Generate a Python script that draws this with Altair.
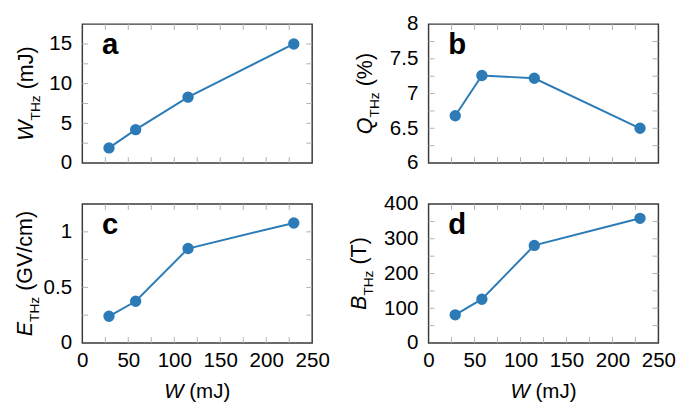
import altair as alt
import pandas as pd

# ---- data ----
energy = [29, 58, 115, 230]          # W (mJ)
w_thz = [1.9, 4.2, 8.3, 15.0]        # W_THz (mJ)
q_thz = [6.68, 7.26, 7.22, 6.5]      # Q_THz (%)
e_thz = [0.24, 0.375, 0.85, 1.08]    # E_THz (GV/cm)
b_thz = [81, 126, 281, 359]          # B_THz (T)

x_labels = [0, 50, 100, 150, 200, 250]
x_minor = [25, 50, 75, 100, 125, 150, 175, 200, 225]

FONT = "Liberation Sans"
BLUE = "#2c7bb6"
PW, PH = 235, 142

AW = {"W": 0.944, "Q": 0.778, "E": 0.667, "B": 0.667, "T": 0.611, "H": 0.722,
      "z": 0.5, " ": 0.278, "(": 0.333, ")": 0.333, "m": 0.833, "J": 0.5,
      "%": 0.889, "G": 0.778, "V": 0.667, "/": 0.278, "c": 0.5}


def tw(s, size):
    return sum(AW.get(ch, 0.556) for ch in s) * size


def txt(s):
    return pd.DataFrame({"t": [s]})


def panel(vals, domain, y_labels, y_minor, letter, var, unit, bx, show_x):
    df = pd.DataFrame({"W": energy, "v": vals})
    xs = alt.Scale(domain=[0, 250], nice=False)
    ys = alt.Scale(domain=domain, nice=False, zero=False)
    if show_x:
        xa = alt.Axis(values=x_labels, ticks=False, domain=False, grid=False,
                      title=None, labelPadding=7, labelOverlap=False, labelBound=False,
                      labelFlush=False, labelExpr="'' + datum.value")
    else:
        xa = None
    ya = alt.Axis(values=y_labels, ticks=False, domain=False, grid=False,
                  title=None, labelPadding=11, labelOverlap=False, labelBound=False,
                  labelFlush=False, labelExpr="'' + datum.value")

    tick_x = pd.DataFrame({"tx": x_minor})
    tick_y = pd.DataFrame({"ty": y_minor})
    tk = dict(color="#b0b0b0", strokeWidth=1)
    L = 6
    layers = [
        alt.Chart(df).mark_line(color=BLUE, strokeWidth=2).encode(
            x=alt.X("W:Q", scale=xs, axis=xa), y=alt.Y("v:Q", scale=ys, axis=ya)),
        alt.Chart(df).mark_point(filled=True, color=BLUE, opacity=1, size=135).encode(
            x=alt.X("W:Q", scale=xs, axis=xa), y=alt.Y("v:Q", scale=ys, axis=ya)),
        alt.Chart(tick_x).mark_rule(**tk).encode(
            x=alt.X("tx:Q", scale=xs, axis=xa), y=alt.value(0), y2=alt.value(L)),
        alt.Chart(tick_x).mark_rule(**tk).encode(
            x=alt.X("tx:Q", scale=xs, axis=xa), y=alt.value(PH - L), y2=alt.value(PH)),
        alt.Chart(tick_y).mark_rule(**tk).encode(
            y=alt.Y("ty:Q", scale=ys, axis=ya), x=alt.value(0), x2=alt.value(L)),
        alt.Chart(tick_y).mark_rule(**tk).encode(
            y=alt.Y("ty:Q", scale=ys, axis=ya), x=alt.value(PW - L), x2=alt.value(PW)),
        alt.Chart(txt(letter)).mark_text(font=FONT, fontSize=30, fontWeight="bold",
                                         align="left", baseline="alphabetic",
                                         color="black").encode(
            x=alt.value(20), y=alt.value(31), text="t:N"),
    ]
    # y-axis title: italic symbol + subscript THz + unit
    fs, ss = 22, 14
    gap = tw(" ", fs)
    w1, w2, w3 = tw(var, fs), tw("THz", ss), tw(unit, fs)
    by = PH / 2 + (w1 + w2 + gap + w3) / 2
    common = dict(font=FONT, angle=270, align="left", baseline="alphabetic", color="black")
    layers += [
        alt.Chart(txt(var)).mark_text(fontSize=fs, fontStyle="italic", **common).encode(
            x=alt.value(bx), y=alt.value(by), text="t:N"),
        alt.Chart(txt("THz")).mark_text(fontSize=ss, **common).encode(
            x=alt.value(bx + 7), y=alt.value(by - w1), text="t:N"),
        alt.Chart(txt(unit)).mark_text(fontSize=fs, **common).encode(
            x=alt.value(bx), y=alt.value(by - w1 - w2 - gap), text="t:N"),
    ]
    if show_x:
        xf = 21
        xw1, xgap, xw2 = tw("W", xf), tw(" ", xf), tw("(mJ)", xf)
        sx = PW / 2 - (xw1 + xgap + xw2) / 2
        c2 = dict(font=FONT, fontSize=xf, align="left", baseline="alphabetic", color="black")
        layers += [
            alt.Chart(txt("W")).mark_text(fontStyle="italic", **c2).encode(
                x=alt.value(sx), y=alt.value(PH + 56), text="t:N"),
            alt.Chart(txt("(mJ)")).mark_text(**c2).encode(
                x=alt.value(sx + xw1 + xgap), y=alt.value(PH + 56), text="t:N"),
        ]
    return alt.layer(*layers).properties(width=PW, height=PH)


pa = panel(w_thz, [0, 17.5], [0, 5, 10, 15], [2.5, 5, 7.5, 10, 12.5, 15],
           "a", "W", "(mJ)", -50, False)
pb = panel(q_thz, [6, 8], [6, 6.5, 7, 7.5, 8], [6.25, 6.5, 6.75, 7, 7.25, 7.5, 7.75],
           "b", "Q", "(%)", -58, False)
pc = panel(e_thz, [0, 1.25], [0, 0.5, 1], [0.25, 0.5, 0.75, 1],
           "c", "E", "(GV/cm)", -51, True)
pd_ = panel(b_thz, [0, 400], [0, 100, 200, 300, 400], [50, 100, 150, 200, 250, 300, 350],
            "d", "B", "(T)", -64, True)

chart = alt.concat(pa, pb, pc, pd_, columns=2, spacing={"row": 42, "column": 119},
                   bounds="flush").properties(
    padding={"left": 6, "top": 0, "right": 0, "bottom": 0}
).configure_view(stroke="#3a3a3a", strokeWidth=1.5).configure_axis(
    labelFont=FONT, labelFontSize=21, labelColor="black"
)

chart.save("out.html", embed_options={"renderer": "svg", "actions": False})
